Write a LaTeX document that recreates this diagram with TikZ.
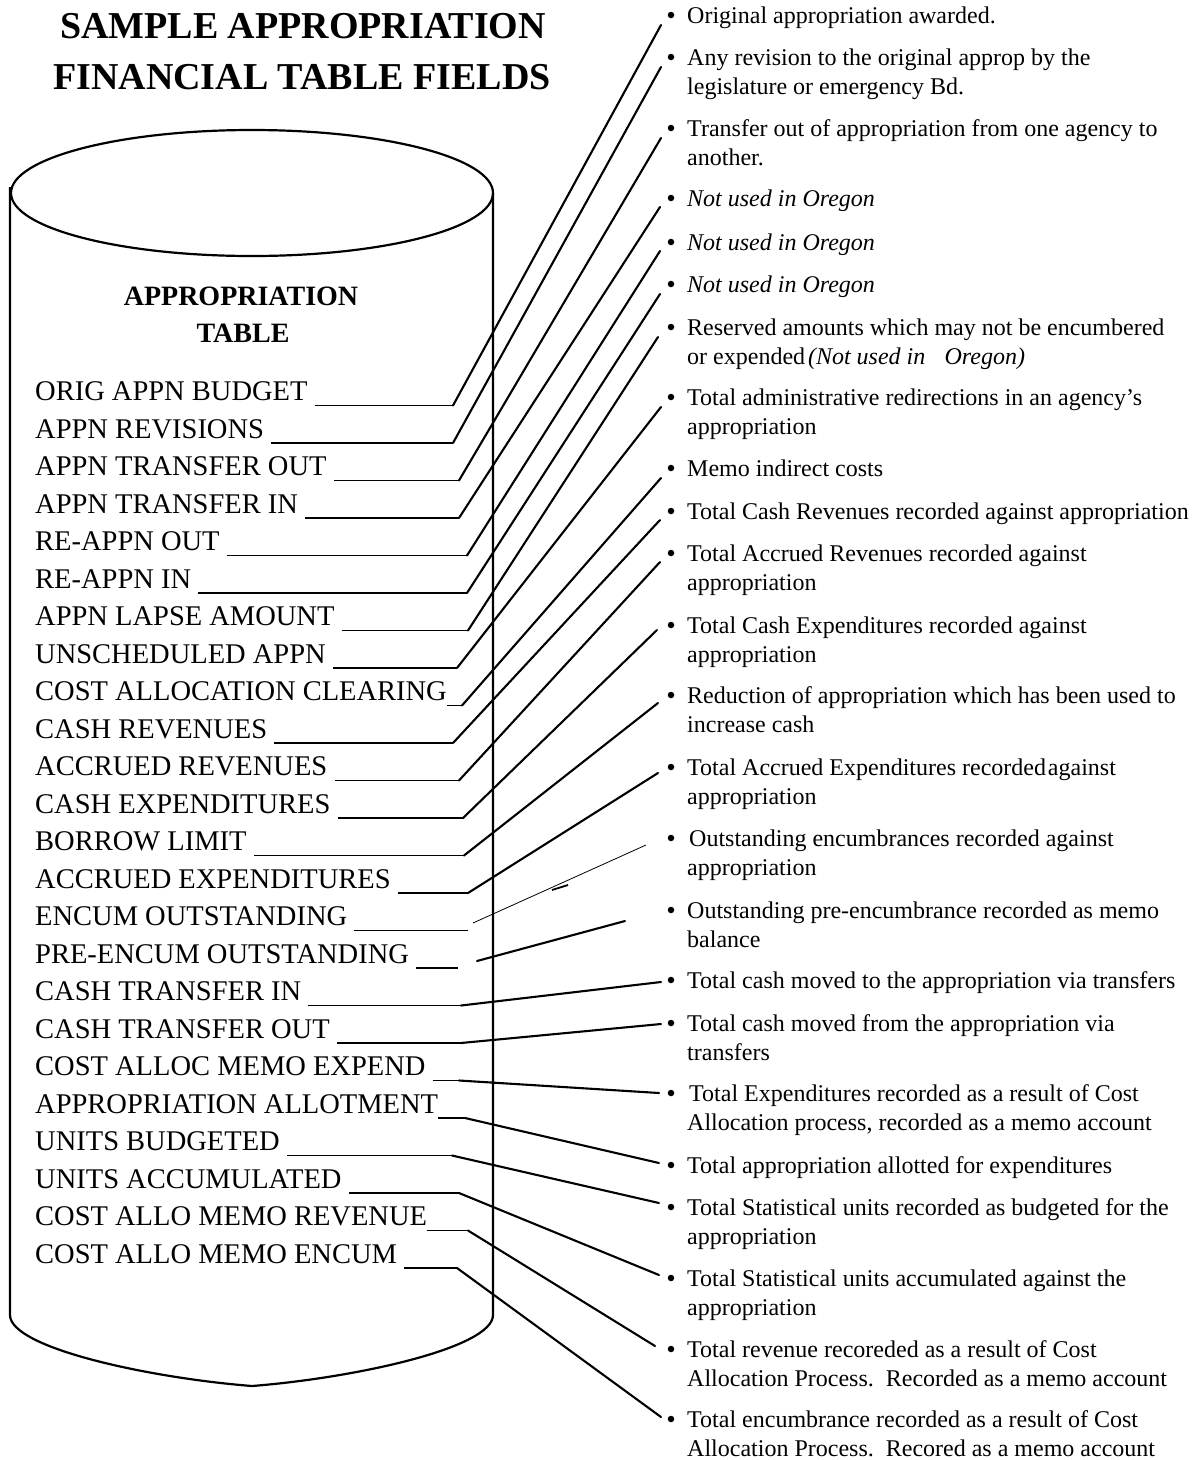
\documentclass[tikz,border=0pt]{standalone}
\usepackage{fontspec}
\setmainfont{Liberation Serif}
\newcommand{\twoline}[2]{\begin{tabular}[t]{@{}l@{}}#1\\#2\end{tabular}}

\begin{document}
\begin{tikzpicture}[x=1pt,y=-1pt,
  heading/.style={anchor=base, inner sep=0pt, font=\bfseries\fontsize{38}{52}\selectfont},
  tablename/.style={anchor=base, inner sep=0pt, font=\bfseries\fontsize{28}{37}\selectfont},
  field/.style={anchor=base west, inner sep=0pt, font=\fontsize{28.5}{37.5}\selectfont},
  note/.style={anchor=base west, inner sep=0pt, font=\fontsize{24}{29.3}\selectfont},
  dot/.style={circle, fill=black, inner sep=0pt, minimum size=6.5pt},
  outline/.style={line width=2.2pt},
  rule/.style={line width=1.5pt},
  leader/.style={line width=2.1pt, line cap=round},
  thinleader/.style={line width=0.8pt}
]
\useasboundingbox (0,0) rectangle (1197,1460);

% heading
\node[heading] (title1) at (303,38) {SAMPLE APPROPRIATION};
\node[heading] (title2) at (302,89) {FINANCIAL TABLE FIELDS};

% the table drawn as a cylinder
\draw[outline] (252,193) ellipse [x radius=241pt, y radius=63pt];
\draw[outline] (10,187) -- (10,1315)
  .. controls (10,1348) and (150,1378) .. (252,1386)
  .. controls (354,1378) and (493,1348) .. (493,1315) -- (493,193);

\node[tablename] (tname1) at (241,305) {APPROPRIATION};
\node[tablename] (tname2) at (243,342) {TABLE};

% field names
\foreach \t [count=\i] in {ORIG APPN BUDGET, APPN REVISIONS, APPN TRANSFER OUT,
  APPN TRANSFER IN, RE-APPN OUT, RE-APPN IN, APPN LAPSE AMOUNT, UNSCHEDULED APPN,
  COST ALLOCATION CLEARING, CASH REVENUES, ACCRUED REVENUES, CASH EXPENDITURES,
  BORROW LIMIT, ACCRUED EXPENDITURES, ENCUM OUTSTANDING, PRE-ENCUM OUTSTANDING,
  CASH TRANSFER IN, CASH TRANSFER OUT, COST ALLOC MEMO EXPEND,
  APPROPRIATION ALLOTMENT, UNITS BUDGETED, UNITS ACCUMULATED,
  COST ALLO MEMO REVENUE, COST ALLO MEMO ENCUM}
  \node[field] (f\i) at (35,{400.5+37.5*(\i-1)}) {\t};

% bullets of the descriptions
\foreach \y [count=\i] in {15,57,128,198,242,284,327,397,468,511,553,625,695,767,
  838,910,980,1023,1093,1165,1207,1278,1349,1419}
  \node[dot] (d\i) at (671,\y) {};

% descriptions
\node[note] (n1) at (687,23) {Original appropriation awarded.};
\node[note] (n2) at (687,65) {\twoline{Any revision to the original approp by the}{legislature or emergency Bd.}};
\node[note] (n3) at (687,136) {\twoline{Transfer out of appropriation from one agency to}{another.}};
\node[note] (n4) at (687,206) {\itshape Not used in Oregon};
\node[note] (n5) at (687,250) {\itshape Not used in Oregon};
\node[note] (n6) at (687,292) {\itshape Not used in Oregon};
\node[note] (n7) at (687,335) {\twoline{Reserved amounts which may not be encumbered}{or expended\hspace{0.12em}\textit{(Not used in\hspace{0.8em}Oregon)}}};
\node[note] (n8) at (687,405) {\twoline{Total administrative redirections in an agency’s}{appropriation}};
\node[note] (n9) at (687,476) {Memo indirect costs};
\node[note] (n10) at (687,519) {Total Cash Revenues recorded against appropriation};
\node[note] (n11) at (687,561) {\twoline{Total Accrued Revenues recorded against}{appropriation}};
\node[note] (n12) at (687,633) {\twoline{Total Cash Expenditures recorded against}{appropriation}};
\node[note] (n13) at (687,703) {\twoline{Reduction of appropriation which has been used to}{increase cash}};
\node[note] (n14) at (687,775) {\twoline{Total Accrued Expenditures recorded\hspace{0.08em}against}{appropriation}};
\node[note] (n15) at (689,846) {\twoline{Outstanding encumbrances recorded against}{\hspace{-2pt}appropriation}};
\node[note] (n16) at (687,918) {\twoline{Outstanding pre-encumbrance recorded as memo}{balance}};
\node[note] (n17) at (687,988) {Total cash moved to the appropriation via transfers};
\node[note] (n18) at (687,1031) {\twoline{Total cash moved from the appropriation via}{transfers}};
\node[note] (n19) at (689,1101) {\twoline{Total Expenditures recorded as a result of Cost}{\hspace{-2pt}Allocation process, recorded as a memo account}};
\node[note] (n20) at (687,1173) {Total appropriation allotted for expenditures};
\node[note] (n21) at (687,1215) {\twoline{Total Statistical units recorded as budgeted for the}{appropriation}};
\node[note] (n22) at (687,1286) {\twoline{Total Statistical units accumulated against the}{appropriation}};
\node[note] (n23) at (687,1357) {\twoline{Total revenue recoreded as a result of Cost}{Allocation Process.\ \ Recorded as a memo account}};
\node[note] (n24) at (687,1427) {\twoline{Total encumbrance recorded as a result of Cost}{Allocation Process.\ \ Recored as a memo account}};

% blanks after the field names and leaders to the descriptions
\foreach \i/\ex/\gap/\sx/\sy in {1/453/7/-10/10, 2/453/7/-10/10, 3/459/7/-10/10,
  4/459/7/-11/9, 5/467/7/-11/9, 6/467/7/-11/10, 7/468/7/-13/10, 8/457/7/-10/10,
  9/462/0/-10/10, 10/453/7/-11/9, 11/459/7/-11/9, 12/463/7/-14/5, 13/464/7/-13/8,
  14/468/7/-13/6, 17/461/7/-10/2, 18/461/7/-10/1, 19/459/7/-12/0,
  20/465/0/-12/-2, 21/452/7/-12/-4, 22/459/7/-12/-3, 23/468/0/-16/-3,
  24/457/7/-10/-2} {
  \coordinate (e\i) at (\ex,{405.5+37.5*(\i-1)});
  \draw[rule] ([shift={(\gap,5)}]f\i.base east) -- (e\i);
  \draw[leader] (e\i) -- ([shift={(\sx,\sy)}]d\i.center);
}

% the two fields whose leaders stop short
\coordinate (e15) at (468,930.5);
\coordinate (e16) at (458,968);
\draw[rule] ([shift={(7,5)}]f15.base east) -- (e15);
\draw[rule] ([shift={(7,5)}]f16.base east) -- (e16);
\coordinate (s15) at (473,923);
\coordinate (t15) at (646,845);
\draw[thinleader] (s15) -- (t15);
\coordinate (s16) at (477,961);
\coordinate (t16) at (625,921);
\draw[leader] (s16) -- (t16);
\draw[line width=1.8pt] (552,890) -- (568,885);
\end{tikzpicture}
\end{document}
